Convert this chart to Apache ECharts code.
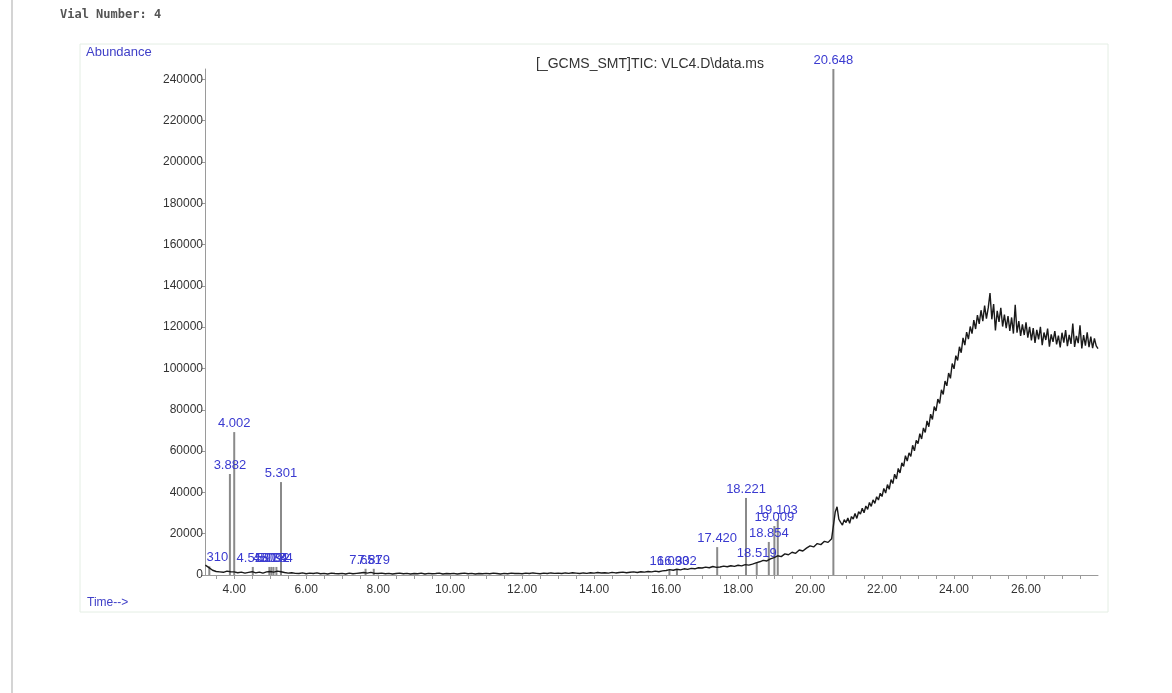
<!DOCTYPE html>
<html>
<head>
<meta charset="utf-8">
<script src="https://cdn.jsdelivr.net/npm/echarts@6/dist/echarts.min.js"></script>
<style>
  html, body { margin: 0; padding: 0; background: #fff; }
  #chart { width: 1172px; height: 693px; }
</style>
</head>
<body>
<div id="chart"></div>
<script>
const earlyStart = 3.2;
const earlyStep = 0.1;
const earlyValues = [
  4800, 3600, 2300, 1700, 1500, 1300, 1900, 1600,
  1500, 1100, 1400, 900, 1300, 1600, 1000, 1400, 900, 1500,
  1700, 1400, 1900, 1600, 1200, 900, 1100, 800, 700, 1000,
  600, 900, 700, 1000, 600, 800, 500, 900, 700, 600,
  800, 500, 900, 600, 800, 1000, 1200, 900, 1300, 800,
  700, 900, 600, 800, 500, 700, 900, 600, 800, 500,
  700, 600, 900, 500, 800, 600, 700, 900, 500, 700,
  600, 800, 500, 700, 900, 600, 800, 500, 700, 600,
  800, 600, 900, 700, 500, 800, 600, 900, 700, 800,
  600, 900, 700, 1000, 800, 600, 900, 700, 1000, 800,
  900, 700, 1000, 800, 1100, 900, 700, 1000, 800, 1100,
  900, 1200, 1000, 1100, 900, 1300, 1000, 1200, 1400, 1100,
  1300, 1500, 1200, 1600, 1400, 1700, 1500, 1900, 1600, 2000,
  2200, 2600, 2300, 2800, 2500, 3000, 2700, 3200, 3000, 3500,
  3400, 3800, 3500, 4100, 3700, 3900, 4300, 4000, 4500, 4200,
  4700, 4400, 5000, 4800, 5300, 5900, 6400, 7100, 6800, 7800,
  8400, 9300, 8900, 10200, 9800, 11000, 10500, 12100, 11600, 13000,
  14100, 13600, 15200, 14700, 16300, 15800, 17600
];

// late part (column bleed hump), sampled every 0.05 min from 20.70 to 28.00 min
const lateStart = 20.7;
const lateStep = 0.05;
const lateValues = [
  30500, 33000, 27000, 25500, 24200, 26800,
  25400, 27600, 25000, 28300, 27100, 29800, 27400, 30600, 29500, 32300,
  30100, 33400, 31800, 35100, 33200, 36400, 34700, 37900, 36300, 39600,
  38000, 41900, 39700, 43800, 41500, 46200, 44300, 48800, 46500, 51600,
  49400, 54300, 52600, 57800, 55200, 59100, 57400, 62800, 60100, 65200,
  63600, 68400, 65900, 71200, 69000, 74600, 71800, 77900, 75300, 81600,
  79400, 85200, 83100, 89700, 87400, 93900, 91600, 97800, 95200, 102400,
  99800, 106200, 103900, 110500, 107600, 114800, 111300, 117600, 114200, 120300,
  116900, 123400, 119100, 125800, 121600, 128200, 122900, 130400, 124100, 129300,
  136500, 123800, 131200, 118400, 127900, 122600, 129400, 120300, 126100, 119500,
  125400, 118200, 124700, 116900, 130800, 117300, 122900, 115800, 121400, 116200,
  122300, 114900, 120100, 113600, 119500, 112400, 118700, 114100, 120200, 111300,
  117400, 113800, 119300, 110600, 116500, 112900, 118100, 111700, 115900, 110200,
  117300, 112500, 118600, 110800, 116300, 111900, 121700, 110400, 115800, 112300,
  120900, 109700, 116200, 111100, 117500, 110300, 115400, 109800, 114600, 110900,
  109600
];

// integrated peaks
const peakTimes   = [3.310, 3.882, 4.002, 4.518, 4.978, 5.034, 5.092, 5.174, 5.301, 7.651, 7.879, 16.093, 16.302, 17.420, 18.221, 18.519, 18.854, 19.009, 19.103, 20.648];
const peakHeights = [4200, 48900, 69200, 3900, 3900, 3900, 3900, 3900, 45000, 3000, 3000, 2400, 2400, 13500, 37300, 6300, 16000, 23700, 27100, 245000];
const peakLabels  = ['310', '3.882', '4.002', '4.518', '4.978', '5.034', '5.092', '5.174', '5.301', '7.651', '7.879', '16.093', '16.302', '17.420', '18.221', '18.519', '18.854', '19.009', '19.103', '20.648'];

const xLabelValues = [4, 6, 8, 10, 12, 14, 16, 18, 20, 22, 24, 26];
const xTickValues = [3.5, 4, 4.5, 5, 5.5, 6, 6.5, 7, 7.5, 8, 8.5, 9, 9.5, 10, 10.5, 11, 11.5, 12, 12.5, 13, 13.5, 14, 14.5, 15, 15.5, 16, 16.5, 17, 17.5, 18, 18.5, 19, 19.5, 20, 20.5, 21, 21.5, 22, 22.5, 23, 23.5, 24, 24.5, 25, 25.5, 26, 26.5, 27, 27.5];
const yLabelValues = [0, 20000, 40000, 60000, 80000, 100000, 120000, 140000, 160000, 180000, 200000, 220000, 240000];

const chart = echarts.init(document.getElementById('chart'));

const trace = earlyValues.map((v, i) => [+(earlyStart + i * earlyStep).toFixed(2), v])
  .concat(lateValues.map((v, i) => [+(lateStart + i * lateStep).toFixed(2), v]));
const peaks = peakTimes.map((t, i) => {
  const item = {value: [t, peakHeights[i]]};
  if (i === 0) item.label = {offset: [8, 0]};
  return item;
});

const option = {
  backgroundColor: '#fff',
  animation: false,
  grid: {left: 205, right: 74, top: 69, bottom: 118},
  xAxis: {
    type: 'value',
    min: 3.19,
    max: 28.0,
    axisLine: {lineStyle: {color: '#9a9a9a'}},
    axisTick: {customValues: xTickValues, length: 4, lineStyle: {color: '#9a9a9a'}},
    axisLabel: {
      customValues: xLabelValues,
      formatter: (v) => v.toFixed(2),
      color: '#333', fontSize: 12, fontFamily: 'Liberation Sans, Arial', margin: 9
    },
    splitLine: {show: false}
  },
  yAxis: {
    type: 'value',
    min: 0,
    max: 245000,
    axisLine: {show: true, lineStyle: {color: '#9a9a9a'}},
    axisTick: {show: true, customValues: yLabelValues, length: 3, lineStyle: {color: '#9a9a9a'}},
    axisLabel: {
      customValues: yLabelValues,
      formatter: (v) => String(v),
      color: '#333', fontSize: 12, fontFamily: 'Liberation Sans, Arial', margin: 2
    },
    splitLine: {show: false}
  },
  graphic: [
    {type: 'line', shape: {x1: 12, y1: 0, x2: 12, y2: 693}, style: {stroke: '#d4d4d4', lineWidth: 2}},
    {type: 'rect', shape: {x: 80, y: 44, width: 1028, height: 568}, style: {fill: 'none', stroke: '#e4eee4', lineWidth: 1}},
    {type: 'text', x: 60, y: 15, style: {text: 'Vial Number: 4', font: 'bold 12px "DejaVu Sans Mono", monospace', fill: '#555', verticalAlign: 'middle'}},
    {type: 'text', x: 86, y: 52, style: {text: 'Abundance', font: '13px "Liberation Sans", Arial', fill: '#4040c8', verticalAlign: 'middle'}},
    {type: 'text', x: 650, y: 64, style: {text: '[_GCMS_SMT]TIC: VLC4.D\\data.ms', font: '14px "Liberation Sans", Arial', fill: '#333', align: 'center', verticalAlign: 'middle'}},
    {type: 'text', x: 87, y: 603, style: {text: 'Time-->', font: '12px "Liberation Sans", Arial', fill: '#4040c8', verticalAlign: 'middle'}}
  ],
  series: [
    {
      type: 'bar',
      data: peaks,
      barWidth: 2,
      z: 1,
      itemStyle: {color: '#8a8a8a'},
      label: {
        show: true,
        position: 'top',
        distance: 2,
        color: '#3a3ad0',
        fontSize: 13,
        fontFamily: 'Liberation Sans, Arial',
        formatter: (p) => peakLabels[p.dataIndex]
      }
    },
    {
      type: 'line',
      data: trace,
      showSymbol: false,
      z: 2,
      lineStyle: {color: '#1a1a1a', width: 1.4},
      silent: true
    }
  ]
};

chart.setOption(option);
</script>
</body>
</html>
